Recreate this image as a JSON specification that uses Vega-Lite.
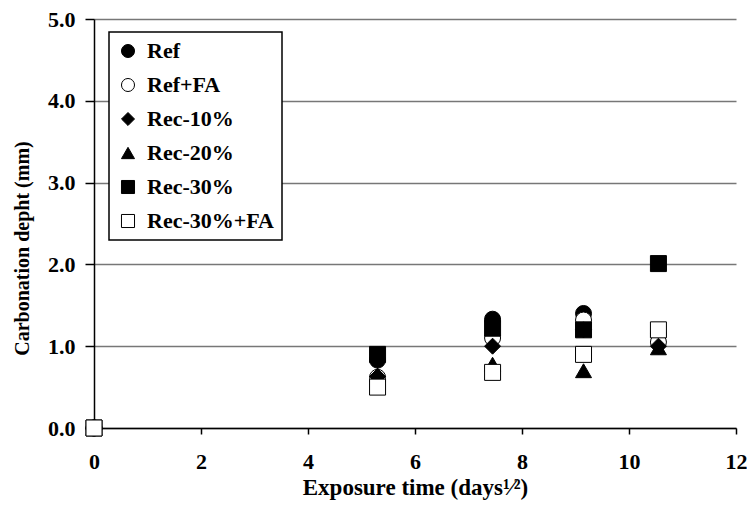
{
  "$schema": "https://vega.github.io/schema/vega-lite/v6.json",
  "width": 642,
  "height": 409,
  "autosize": "none",
  "padding": {"left": 94, "top": 19, "right": 11, "bottom": 82},
  "background": "white",
  "data": {
    "values": [
      {"series": "Ref", "x": 0, "y": 0},
      {"series": "Ref", "x": 5.3, "y": 0.83},
      {"series": "Ref", "x": 7.45, "y": 1.33},
      {"series": "Ref", "x": 9.15, "y": 1.4},
      {"series": "Ref", "x": 10.55, "y": 1.15},
      {"series": "Ref+FA", "x": 0, "y": 0},
      {"series": "Ref+FA", "x": 5.3, "y": 0.62},
      {"series": "Ref+FA", "x": 7.45, "y": 1.1},
      {"series": "Ref+FA", "x": 9.15, "y": 1.32},
      {"series": "Ref+FA", "x": 10.55, "y": 1.05},
      {"series": "Rec-10%", "x": 0, "y": 0},
      {"series": "Rec-10%", "x": 5.3, "y": 0.63},
      {"series": "Rec-10%", "x": 7.45, "y": 1.0},
      {"series": "Rec-10%", "x": 9.15, "y": 1.2},
      {"series": "Rec-10%", "x": 10.55, "y": 1.0},
      {"series": "Rec-20%", "x": 0, "y": 0},
      {"series": "Rec-20%", "x": 5.3, "y": 0.65},
      {"series": "Rec-20%", "x": 7.45, "y": 0.78},
      {"series": "Rec-20%", "x": 9.15, "y": 0.7},
      {"series": "Rec-20%", "x": 10.55, "y": 0.98},
      {"series": "Rec-30%", "x": 0, "y": 0},
      {"series": "Rec-30%", "x": 5.3, "y": 0.9},
      {"series": "Rec-30%", "x": 7.45, "y": 1.22},
      {"series": "Rec-30%", "x": 9.15, "y": 1.2},
      {"series": "Rec-30%", "x": 10.55, "y": 2.01},
      {"series": "Rec-30%+FA", "x": 0, "y": 0},
      {"series": "Rec-30%+FA", "x": 5.3, "y": 0.5},
      {"series": "Rec-30%+FA", "x": 7.45, "y": 0.68},
      {"series": "Rec-30%+FA", "x": 9.15, "y": 0.9},
      {"series": "Rec-30%+FA", "x": 10.55, "y": 1.2}
    ]
  },
  "mark": {"type": "point", "filled": true, "strokeWidth": 1, "size": 256, "opacity": 1},
  "encoding": {
    "x": {
      "field": "x", "type": "quantitative",
      "scale": {"domain": [0, 12], "nice": false, "zero": true},
      "axis": {"values": [0, 2, 4, 6, 8, 10, 12], "title": "Exposure time (days¹⁄²)", "grid": false,
               "tickSize": 6, "labelPadding": 17, "titlePadding": 4, "titleFontSize": 23, "labelFlush": false}
    },
    "y": {
      "field": "y", "type": "quantitative",
      "scale": {"domain": [0, 5], "nice": false},
      "axis": {"values": [0, 1, 2, 3, 4, 5], "format": ".1f", "title": "Carbonation depht (mm)", "grid": true,
               "labelFlush": false, "labelPadding": 10, "titleFontSize": 20,
               "titleX": -62, "titleY": 229, "titleAngle": 270, "titleAlign": "center", "titleBaseline": "bottom"}
    },
    "shape": {
      "field": "series", "type": "nominal",
      "scale": {
        "domain": ["Ref", "Ref+FA", "Rec-10%", "Rec-20%", "Rec-30%", "Rec-30%+FA"],
        "range": ["circle", "circle", "diamond", "triangle-up", "square", "square"]
      },
      "legend": {"title": null}
    },
    "fill": {
      "field": "series", "type": "nominal",
      "scale": {
        "domain": ["Ref", "Ref+FA", "Rec-10%", "Rec-20%", "Rec-30%", "Rec-30%+FA"],
        "range": ["black", "white", "black", "black", "black", "white"]
      },
      "legend": {"title": null}
    },
    "stroke": {
      "field": "series", "type": "nominal",
      "scale": {
        "domain": ["Ref", "Ref+FA", "Rec-10%", "Rec-20%", "Rec-30%", "Rec-30%+FA"],
        "range": ["black", "black", "black", "black", "black", "black"]
      },
      "legend": {"title": null}
    }
  },
  "config": {
    "view": {"stroke": null},
    "font": "Liberation Serif",
    "axis": {
      "domainColor": "black", "domainWidth": 1.5,
      "tickColor": "black", "tickWidth": 1.5, "tickSize": 9,
      "labelFont": "Liberation Serif", "labelFontWeight": "bold", "labelFontSize": 22, "labelColor": "black",
      "titleFont": "Liberation Serif", "titleFontWeight": "bold", "titleFontSize": 21, "titleColor": "black",
      "gridColor": "#777777", "gridWidth": 1.5
    },
    "legend": {
      "orient": "none", "legendX": 15, "legendY": 13,
      "strokeColor": "black", "strokeWidth": 1.5, "fillColor": "white",
      "padding": 8, "rowPadding": 12,
      "labelFont": "Liberation Serif", "labelFontWeight": "bold", "labelFontSize": 22, "labelColor": "black",
      "symbolSize": 170, "symbolStrokeWidth": 1, "labelOffset": 8
    }
  }
}
